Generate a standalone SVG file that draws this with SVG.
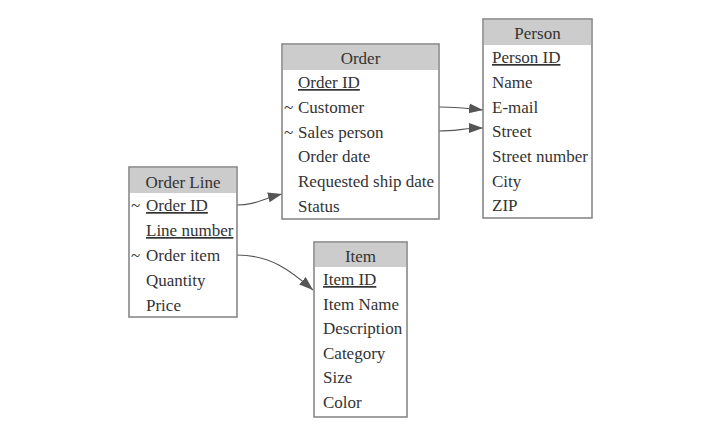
<svg xmlns="http://www.w3.org/2000/svg" width="719" height="434" viewBox="0 0 719 434">
<style>
.box{fill:#ffffff;stroke:#808080;stroke-width:1.5}
.hdr{fill:#cccccc;stroke:none}
text{font-family:"Liberation Serif","Times New Roman",serif;font-size:17px;fill:#333333}
.t{text-anchor:middle}
.u{text-decoration:underline}
.c{fill:none;stroke:#555555;stroke-width:1.2}
</style>
<defs>
<marker id="ah" markerWidth="15" markerHeight="11" refX="14" refY="5" orient="auto" markerUnits="userSpaceOnUse">
<path d="M0,0 L14,5 L0,10 z" fill="#555555"/>
</marker>
</defs>
<rect width="719" height="434" fill="#ffffff"/>
<g id="connectors">
<path class="c" d="M237,205 C255,205 262,199 282,194" marker-end="url(#ah)"/>
<path class="c" d="M237,255 C270,255 290,270 313,290" marker-end="url(#ah)"/>
<path class="c" d="M439,107 C455,107 466,108 483,110" marker-end="url(#ah)"/>
<path class="c" d="M439,131 C455,131 466,128 483,128" marker-end="url(#ah)"/>
</g>
<g id="order-line">
<rect class="box" x="129" y="167" width="108" height="150"/>
<rect class="hdr" x="130" y="168" width="106" height="25"/>
<text class="t" x="183" y="188">Order Line</text>
<text x="131" y="211">~</text><text class="u" x="146" y="211">Order ID</text>
<text class="u" x="146" y="236">Line number</text>
<text x="131" y="261">~</text><text x="146" y="261">Order item</text>
<text x="146" y="286">Quantity</text>
<text x="146" y="311">Price</text>
</g>
<g id="order">
<rect class="box" x="282" y="44" width="157" height="175"/>
<rect class="hdr" x="283" y="45" width="155" height="25"/>
<text class="t" x="360.5" y="64">Order</text>
<text class="u" x="298" y="88">Order ID</text>
<text x="284" y="113">~</text><text x="298" y="113">Customer</text>
<text x="284" y="138">~</text><text x="298" y="138">Sales person</text>
<text x="298" y="162">Order date</text>
<text x="298" y="187">Requested ship date</text>
<text x="298" y="212">Status</text>
</g>
<g id="person">
<rect class="box" x="483" y="19" width="109" height="199"/>
<rect class="hdr" x="484" y="20" width="107" height="25"/>
<text class="t" x="537.5" y="39">Person</text>
<text class="u" x="492" y="63">Person ID</text>
<text x="492" y="88">Name</text>
<text x="492" y="113">E-mail</text>
<text x="492" y="137">Street</text>
<text x="492" y="162">Street number</text>
<text x="492" y="187">City</text>
<text x="492" y="211">ZIP</text>
</g>
<g id="item">
<rect class="box" x="314" y="242" width="93" height="175"/>
<rect class="hdr" x="315" y="243" width="91" height="24"/>
<text class="t" x="360.5" y="262">Item</text>
<text class="u" x="323" y="285">Item ID</text>
<text x="323" y="310">Item Name</text>
<text x="323" y="334">Description</text>
<text x="323" y="359">Category</text>
<text x="323" y="383">Size</text>
<text x="323" y="408">Color</text>
</g>
</svg>
